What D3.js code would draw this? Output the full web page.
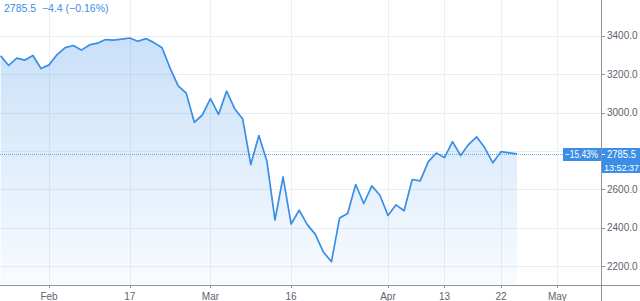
<!DOCTYPE html>
<html lang="en">
<head>
  <meta charset="UTF-8">
  <title>Price chart</title>
  <script src="https://d3js.org/d3.v7.min.js"></script>
  <style>
    body { margin: 0; background: #fff; }
    svg { display: block; font-family: "Liberation Sans", "DejaVu Sans", sans-serif; }
  </style>
</head>
<body>
  <div id="chart"></div>
  <script>
    // trading days (Good Friday skipped), plus a few future days for the axis
    const dates = [
      "2020-01-24", "2020-01-27", "2020-01-28", "2020-01-29", "2020-01-30", "2020-01-31",
      "2020-02-03", "2020-02-04", "2020-02-05", "2020-02-06", "2020-02-07",
      "2020-02-10", "2020-02-11", "2020-02-12", "2020-02-13", "2020-02-14",
      "2020-02-17", "2020-02-18", "2020-02-19", "2020-02-20", "2020-02-21",
      "2020-02-24", "2020-02-25", "2020-02-26", "2020-02-27", "2020-02-28",
      "2020-03-02", "2020-03-03", "2020-03-04", "2020-03-05", "2020-03-06",
      "2020-03-09", "2020-03-10", "2020-03-11", "2020-03-12", "2020-03-13",
      "2020-03-16", "2020-03-17", "2020-03-18", "2020-03-19", "2020-03-20",
      "2020-03-23", "2020-03-24", "2020-03-25", "2020-03-26", "2020-03-27",
      "2020-03-30", "2020-03-31", "2020-04-01", "2020-04-02", "2020-04-03",
      "2020-04-06", "2020-04-07", "2020-04-08", "2020-04-09",
      "2020-04-13", "2020-04-14", "2020-04-15", "2020-04-16", "2020-04-17",
      "2020-04-20", "2020-04-21", "2020-04-22", "2020-04-23", "2020-04-24",
      "2020-04-27", "2020-04-28", "2020-04-29", "2020-04-30", "2020-05-01",
      "2020-05-04", "2020-05-05", "2020-05-06", "2020-05-07", "2020-05-08"
    ];

    const prices = [
      3296, 3246, 3284, 3274, 3298, 3230,
      3249, 3303, 3339, 3350, 3326,
      3353, 3362, 3381, 3378, 3383,
      3389, 3372, 3386, 3365, 3338,
      3232, 3140, 3102, 2950, 2988,
      3073, 2991, 3113, 3021, 2967,
      2730, 2881, 2747, 2441, 2666,
      2420, 2492, 2417, 2366, 2274,
      2224, 2451, 2475, 2626, 2527,
      2619, 2570, 2465, 2520, 2489,
      2652, 2645, 2745, 2790,
      2766, 2849, 2777, 2835, 2874,
      2817, 2739, 2797, 2791, 2785.5
    ];

    const yTicks = [2200, 2400, 2600, 2800, 3000, 3200, 3400];
    const xTickDates = ["2020-02-03", "2020-02-17", "2020-03-02", "2020-03-16",
                        "2020-04-01", "2020-04-13", "2020-04-22", "2020-05-01"];
    const xTickLabels = ["Feb", "17", "Mar", "16", "Apr", "13", "22", "May"];

    const lastPrice = 2785.5;
    const headerChange = "\u22124.4 (\u22120.16%)";
    const periodChange = "\u221215.43%";
    const countdown = "13:52:37";

    const width = 640, height = 301;
    const axisX = 601, axisY = 285;
    const blue = "#3a8ee6";

    const svg = d3.select("#chart").append("svg")
      .attr("width", width).attr("height", height);

    const x = d3.scaleLinear().domain([-0.08, 74.4]).range([0, axisX]);
    const y = d3.scaleLinear().domain([2102.5, 3587]).range([axisY, 0]);
    const idx = d => dates.indexOf(d);
    const ly = Math.round(y(lastPrice));

    // grid
    svg.append("g").selectAll("line").data(yTicks).join("line")
      .attr("x1", 0).attr("x2", axisX)
      .attr("y1", d => Math.round(y(d)) + 0.5).attr("y2", d => Math.round(y(d)) + 0.5)
      .attr("stroke", "#eceef3");
    svg.append("g").selectAll("line").data(xTickDates).join("line")
      .attr("x1", d => Math.round(x(idx(d))) + 0.5).attr("x2", d => Math.round(x(idx(d))) + 0.5)
      .attr("y1", 0).attr("y2", axisY)
      .attr("stroke", "#eceef3");

    // area + line
    const defs = svg.append("defs");
    const grad = defs.append("linearGradient").attr("id", "fill")
      .attr("x1", 0).attr("x2", 0).attr("y1", 0).attr("y2", 1);
    grad.append("stop").attr("offset", "0%").attr("stop-color", "#2f88e6").attr("stop-opacity", 0.26);
    grad.append("stop").attr("offset", "100%").attr("stop-color", "#2f88e6").attr("stop-opacity", 0.03);

    const pts = prices.map((p, i) => [i, p]);

    svg.append("path").datum(pts)
      .attr("fill", "url(#fill)")
      .attr("d", d3.area().x(d => x(d[0])).y0(axisY).y1(d => y(d[1])));

    // last price dotted line
    svg.append("line")
      .attr("x1", 0).attr("x2", axisX)
      .attr("y1", ly + 0.5).attr("y2", ly + 0.5)
      .attr("stroke", "#6aa8ef").attr("stroke-dasharray", "1,1");

    svg.append("path").datum(pts)
      .attr("fill", "none")
      .attr("stroke", blue)
      .attr("stroke-width", 1.7)
      .attr("stroke-linejoin", "round")
      .attr("d", d3.line().x(d => x(d[0])).y(d => y(d[1])));

    // axes
    svg.append("line").attr("x1", 0).attr("x2", width)
      .attr("y1", axisY + 0.5).attr("y2", axisY + 0.5).attr("stroke", "#8f929a");
    svg.append("line").attr("x1", axisX + 0.5).attr("x2", axisX + 0.5)
      .attr("y1", 0).attr("y2", height).attr("stroke", "#8f929a");

    // tick labels hidden where the price label sits
    const shownY = yTicks.filter(d => Math.abs(y(d) - ly) > 12);
    const yAxis = svg.append("g");
    yAxis.selectAll("line").data(yTicks).join("line")
      .attr("x1", axisX).attr("x2", axisX + 4)
      .attr("y1", d => Math.round(y(d)) + 0.5).attr("y2", d => Math.round(y(d)) + 0.5)
      .attr("stroke", "#8f929a");
    yAxis.selectAll("text").data(shownY).join("text")
      .attr("x", axisX + 6).attr("y", d => y(d)).attr("dy", "0.35em")
      .attr("font-size", 10).attr("fill", "#5f626c")
      .text(d => d3.format(".1f")(d));

    const xAxis = svg.append("g");
    xAxis.selectAll("line").data(xTickDates).join("line")
      .attr("x1", d => Math.round(x(idx(d))) + 0.5).attr("x2", d => Math.round(x(idx(d))) + 0.5)
      .attr("y1", axisY).attr("y2", axisY + 3)
      .attr("stroke", "#8f929a");
    xAxis.selectAll("text").data(xTickDates).join("text")
      .attr("x", d => x(idx(d))).attr("y", axisY + 11).attr("dy", "0.35em")
      .attr("text-anchor", "middle")
      .attr("font-size", 10).attr("fill", "#5f626c")
      .text((d, i) => xTickLabels[i]);

    // price labels
    svg.append("rect").attr("x", 563).attr("y", ly - 6)
      .attr("width", axisX - 563).attr("height", 13).attr("fill", blue);
    svg.append("text").attr("x", 565).attr("y", ly + 0.5).attr("dy", "0.35em")
      .attr("font-size", 10).attr("fill", "#fff")
      .attr("textLength", 33).attr("lengthAdjust", "spacingAndGlyphs")
      .text(periodChange);
    svg.append("rect").attr("x", axisX + 1).attr("y", ly - 6)
      .attr("width", width - axisX - 1).attr("height", 13).attr("fill", blue);
    svg.append("line").attr("x1", axisX + 1).attr("x2", axisX + 4)
      .attr("y1", ly + 0.5).attr("y2", ly + 0.5).attr("stroke", "#fff");
    svg.append("text").attr("x", axisX + 6).attr("y", ly + 0.5).attr("dy", "0.35em")
      .attr("font-size", 10).attr("fill", "#fff")
      .attr("textLength", 29).attr("lengthAdjust", "spacingAndGlyphs")
      .text(d3.format(".1f")(lastPrice));
    svg.append("rect").attr("x", axisX + 1).attr("y", ly + 7)
      .attr("width", width - axisX - 1).attr("height", 12).attr("fill", blue);
    svg.append("text").attr("x", axisX + 3).attr("y", ly + 13.5).attr("dy", "0.35em")
      .attr("font-size", 9).attr("fill", "#fff")
      .text(countdown);

    // header
    svg.append("text").attr("x", 4).attr("y", 12)
      .attr("font-size", 10.5).attr("fill", blue)
      .attr("xml:space", "preserve")
      .text(d3.format(".1f")(lastPrice) + "  " + headerChange);
  </script>
</body>
</html>
